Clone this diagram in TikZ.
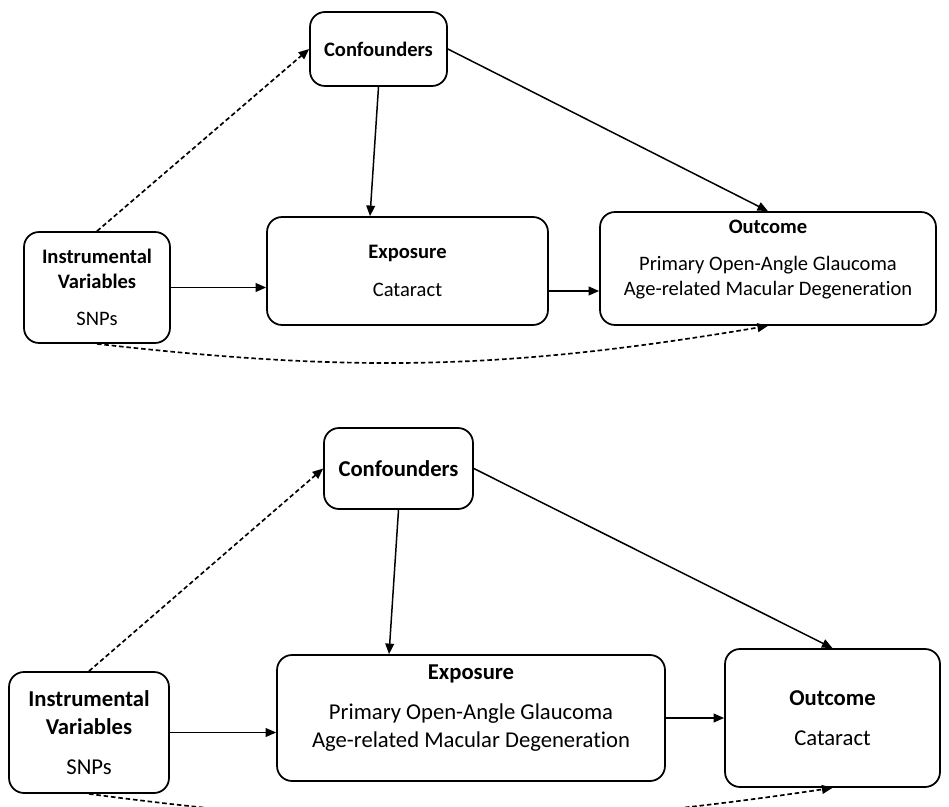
\documentclass[tikz,border=0pt]{standalone}
\usepackage{fontspec}
\setmainfont[Ligatures={NoCommon,NoContextual}]{Carlito}
\usetikzlibrary{arrows.meta}

\tikzset{
  box/.style={draw, line width=1pt, rounded corners=0.3cm, align=center},
  cause/.style={->, line width=0.85pt},
  ivpath/.style={->, line width=0.95pt, dash pattern=on 2.6pt off 1.6pt},
}

\begin{document}
\begin{tikzpicture}[x=0.02cm, y=-0.02cm, >={Triangle[length=6pt,width=5pt]}]
\useasboundingbox (0,0) rectangle (949,807);

% cataract -> POAG / AMD
\begin{scope}[font=\fontsize{11.7}{14.2}\selectfont]
  \node[box, minimum width=2.74cm, minimum height=1.48cm] (conf1) at (378.5,49) {\textbf{Confounders}};
  \node[box, minimum width=2.92cm, minimum height=2.22cm] (iv1) at (97,287.5)
       {\textbf{Instrumental}\\\textbf{Variables}\\[7pt]SNPs};
  \node[box, minimum width=5.62cm, minimum height=2.16cm] (exp1) at (407.5,271)
       {\textbf{Exposure}\\[7pt]Cataract};
  \node[box, minimum width=6.72cm, minimum height=2.26cm] (out1) at (768,268.5)
       {\textbf{Outcome}\\[7pt]Primary Open-Angle Glaucoma\\Age-related Macular Degeneration\\[-2pt]~};

  \draw[cause] (conf1.south) -- ([xshift=-0.75cm]exp1.north);
  \draw[cause] (conf1.east) -- (out1.north);
  \draw[cause] (iv1.east) -- (iv1.east -| exp1.west);
  \draw[cause] ([yshift=-0.4cm]exp1.east) -- ([yshift=-0.4cm]exp1.east -| out1.west);
  \draw[ivpath] (iv1.north) -- (conf1.west);
  \draw[ivpath] (iv1.south) to[bend right=8] (out1.south);
\end{scope}

% POAG / AMD -> cataract
\begin{scope}[font=\fontsize{12.9}{15.9}\selectfont]
  \node[box, minimum width=2.98cm, minimum height=1.62cm] (conf2) at (398.5,468.5) {\textbf{Confounders}};
  \node[box, minimum width=3.2cm, minimum height=2.42cm] (iv2) at (89,732.5)
       {\textbf{Instrumental}\\\textbf{Variables}\\[7pt]SNPs};
  \node[box, minimum width=7.76cm, minimum height=2.52cm] (exp2) at (471,718)
       {\textbf{Exposure}\\[7pt]Primary Open-Angle Glaucoma\\Age-related Macular Degeneration\\[-2pt]~};
  \node[box, minimum width=4.3cm, minimum height=2.76cm] (out2) at (832.5,718)
       {\textbf{Outcome}\\[7pt]Cataract};

  \draw[cause] (conf2.south) -- ([xshift=-1.64cm]exp2.north);
  \draw[cause] (conf2.east) -- (out2.north);
  \draw[cause] (iv2.east) -- (iv2.east -| exp2.west);
  \draw[cause] (exp2.east) -- (out2.west);
  \draw[ivpath] (iv2.north) -- (conf2.west);
  \draw[ivpath] (iv2.south) to[bend right=8] (out2.south);
\end{scope}
\end{tikzpicture}
\end{document}
